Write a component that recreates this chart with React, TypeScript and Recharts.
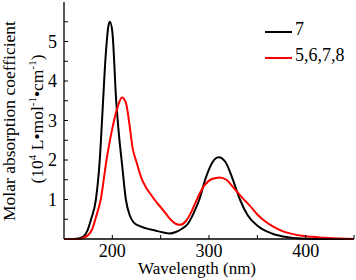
import React from "react";
import { Line, LineChart, XAxis, YAxis } from "recharts";

// spectrum of 7 (black)
const wl7 = [150, 160, 165, 170, 174, 178, 183, 187, 190, 193, 196, 197.5, 200, 204, 207, 210, 214, 218, 222, 228, 235, 245, 252, 259, 265, 272, 278, 284, 290, 296, 303, 310, 317, 324, 332, 340, 352, 365, 380, 395, 410, 450];
const abs7 = [0, 0, 0.01, 0.06, 0.2, 0.5, 1.0, 2.0, 3.3, 4.6, 5.4, 5.5, 5.25, 3.5, 2.6, 1.9, 1.0, 0.6, 0.42, 0.33, 0.27, 0.21, 0.17, 0.14, 0.17, 0.26, 0.38, 0.65, 1.0, 1.5, 1.92, 2.07, 1.95, 1.55, 1.0, 0.6, 0.3, 0.14, 0.05, 0.01, 0, 0];

// spectrum of 5,6,7,8 (red)
const wlMix = [150, 165, 170, 175, 179, 183, 188, 194, 200, 205, 210, 214, 218, 221, 225, 230, 235, 240, 246, 253, 260, 266, 270, 276, 282, 288, 295, 303, 311, 318, 326, 335, 342, 350, 358, 366, 376, 386, 396, 405, 420, 435, 450];
const absMix = [0, 0, 0.03, 0.1, 0.24, 0.55, 1.0, 2.0, 2.8, 3.3, 3.58, 3.45, 2.85, 2.3, 1.95, 1.55, 1.3, 1.12, 0.92, 0.72, 0.5, 0.38, 0.36, 0.45, 0.7, 1.03, 1.35, 1.52, 1.56, 1.5, 1.28, 1.03, 0.85, 0.62, 0.45, 0.32, 0.2, 0.13, 0.08, 0.06, 0.03, 0.01, 0];

const xTicks = [200, 250, 300, 350, 400, 450];
const yTicks = [0.5, 1, 1.5, 2, 2.5, 3, 3.5, 4, 4.5, 5, 5.5];
const seriesNames = ["7", "5,6,7,8"];
const seriesColors = ["#000000", "#ff0000"];

const data7 = wl7.map((x, i) => ({ x, y: abs7[i] }));
const dataMix = wlMix.map((x, i) => ({ x, y: absMix[i] }));

const font = "Liberation Serif";
const tickStyle = { fill: "#000", fontSize: 18, fontFamily: font };
const axisLine = { stroke: "#000", strokeWidth: 1.3 };

// y-axis title + legend, drawn in svg so they take no layout space
function YLabel() {
  return (
    <g fill="#000" style={{ fontFamily: font }}>
      <text x={15} y={121} fontSize={17.5} textAnchor="middle" transform="rotate(-90 15 121)">
        Molar absorption coefficient
      </text>
      <text x={43} y={119} fontSize={17.5} textAnchor="middle" transform="rotate(-90 43 119)">
        (10<tspan fontSize={11} dy={-7}>4</tspan>
        <tspan dy={7}> L•mol</tspan>
        <tspan fontSize={11} dy={-7}>-1</tspan>
        <tspan dy={7}>•cm</tspan>
        <tspan fontSize={11} dy={-7}>-1</tspan>
        <tspan dy={7}>)</tspan>
      </text>
      {seriesNames.map((n, i) => (
        <g key={n}>
          <line x1={265} x2={292} y1={32 + i * 26} y2={32 + i * 26} stroke={seriesColors[i]} strokeWidth={2} />
          <text x={295} y={35 + i * 26} fontSize={18}>
            {n}
          </text>
        </g>
      ))}
    </g>
  );
}

function XLabel() {
  return (
    <text x={197} y={274} style={{ fontFamily: font }} fontSize={17} fill="#000" textAnchor="middle">
      Wavelength (nm)
    </text>
  );
}

export default function App() {
  return (
    <div style={{ position: "absolute", left: 0, top: 0, fontFamily: font }}>
      <LineChart width={356} height={280} margin={{ top: 2, right: 2, bottom: 1, left: 0 }}>
        <XAxis
          xAxisId="b"
          type="number"
          dataKey="x"
          domain={[150, 450]}
          ticks={xTicks}
          allowDataOverflow
          height={40}
          axisLine={axisLine}
          tickLine={{ stroke: "#000" }}
          tickSize={-4}
          tickMargin={9}
          tick={tickStyle}
          tickFormatter={(v: number) => (v % 100 === 0 && v < 450 ? String(v) : "")}
          label={<XLabel />}
        />
        <XAxis xAxisId="t" orientation="top" type="number" domain={[150, 450]} height={0} tick={false} tickLine={false} axisLine={axisLine} />
        <YAxis
          yAxisId="l"
          type="number"
          domain={[0, 6]}
          ticks={yTicks}
          width={64}
          axisLine={axisLine}
          tickLine={{ stroke: "#000" }}
          tickSize={-4}
          tickMargin={11}
          tick={tickStyle}
          tickFormatter={(v: number) => (Number.isInteger(v) ? String(v) : "")}
          label={<YLabel />}
        />
        <YAxis yAxisId="r" orientation="right" type="number" domain={[0, 6]} width={0} tick={false} tickLine={false} axisLine={axisLine} />
        <Line xAxisId="b" yAxisId="l" data={data7} dataKey="y" name={seriesNames[0]} type="monotone" stroke={seriesColors[0]} strokeWidth={2} dot={false} isAnimationActive={false} />
        <Line xAxisId="b" yAxisId="l" data={dataMix} dataKey="y" name={seriesNames[1]} type="monotone" stroke={seriesColors[1]} strokeWidth={2} dot={false} isAnimationActive={false} />
      </LineChart>
    </div>
  );
}
